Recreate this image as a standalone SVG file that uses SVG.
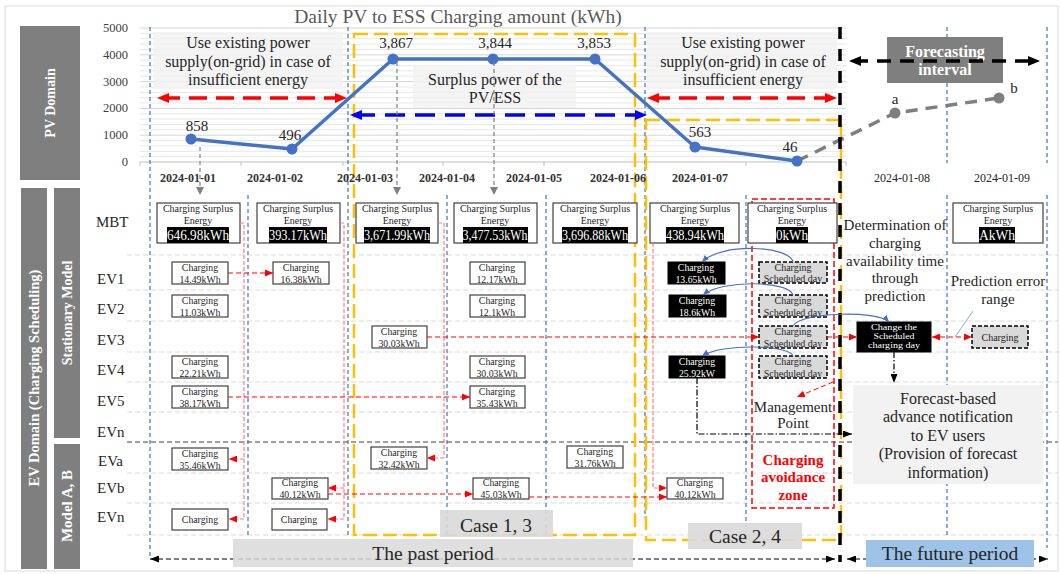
<svg xmlns="http://www.w3.org/2000/svg" width="1061" height="574" viewBox="0 0 1061 574">
<style>
  text{font-family:"Liberation Serif","Times New Roman",serif;fill:#262626}
  .bar{fill:#7f7f7f}
  .barT{fill:#fff;font-weight:bold;text-anchor:middle}
  .ytick{font-size:12.5px;text-anchor:end;fill:#404040}
  .date{font-size:12px;text-anchor:middle;font-weight:bold;fill:#333}
  .date2{font-size:12px;text-anchor:middle}
  .val{font-size:15px;text-anchor:middle}
  .note{font-size:16px;text-anchor:middle}
  .note15{font-size:15px;text-anchor:middle}
  .band{fill:#f2f2f2;opacity:.85}
  .row{font-size:15px}
  .sep{stroke:#d9d9d9;stroke-width:1;stroke-dasharray:5 3;fill:none}
  .vsep{stroke:#4472c4;stroke-width:1.2;stroke-dasharray:4 3;fill:none}
  .mbt{fill:#fff;stroke:#404040;stroke-width:1.2}
  .mbtT{font-size:10px;text-anchor:middle}
  .mbtV{font-size:15.5px;fill:#fff;text-anchor:middle}
  .cb{fill:#fff;stroke:#404040;stroke-width:1.2}
  .cbK{fill:#000;stroke:#000;stroke-width:1}
  .cbG{fill:#d9d9d9;stroke:#000;stroke-width:1.5;stroke-dasharray:4 2}
  .ct{font-size:9.8px;text-anchor:middle}
  .ctW{font-size:9.8px;text-anchor:middle;fill:#fff}
  .ctS{font-size:8px;text-anchor:middle;fill:#fff}
  .ctG{font-size:10px;text-anchor:middle}
  .rd{stroke:#ff0000;stroke-width:1;stroke-dasharray:5 3;fill:none}
  .pk{stroke:#ff7c80;stroke-width:1.2;stroke-dasharray:4 2;fill:none}
  .bl{stroke:#4472c4;stroke-width:1.2;fill:none}
  .kd{stroke:#000;stroke-width:1.2;stroke-dasharray:6 2 1.5 2;fill:none}
  .gd{stroke:#7f7f7f;stroke-width:1.2;stroke-dasharray:4 3;fill:none}
  .orange{fill:none;stroke:#ffc000;stroke-width:2.5;stroke-dasharray:14 6}
  .big{font-size:19.5px;text-anchor:middle}
</style>
<defs>
  <marker id="ahRedLg" viewBox="0 0 12 10" refX="7" refY="5" markerWidth="12" markerHeight="10" markerUnits="userSpaceOnUse" orient="auto-start-reverse"><path d="M0,0L12,5L0,10z" fill="#ff0000"/></marker>
  <marker id="ahBlueLg" viewBox="0 0 12 10" refX="7" refY="5" markerWidth="12" markerHeight="10" markerUnits="userSpaceOnUse" orient="auto-start-reverse"><path d="M0,0L12,5L0,10z" fill="#0000ff"/></marker>
  <marker id="ahBlackLg" viewBox="0 0 12 10" refX="7" refY="5" markerWidth="12" markerHeight="10" markerUnits="userSpaceOnUse" orient="auto-start-reverse"><path d="M0,0L12,5L0,10z" fill="#000"/></marker>
  <marker id="ahRed" viewBox="0 0 8 7" refX="8" refY="3.5" markerWidth="8" markerHeight="7" markerUnits="userSpaceOnUse" orient="auto-start-reverse"><path d="M0,0L8,3.5L0,7z" fill="#ff0000"/></marker>
  <marker id="ahBlue" viewBox="0 0 7 6" refX="7" refY="3" markerWidth="7" markerHeight="6" markerUnits="userSpaceOnUse" orient="auto"><path d="M0,0L7,3L0,6z" fill="#4472c4"/></marker>
  <marker id="ahBlack" viewBox="0 0 9 7" refX="9" refY="3.5" markerWidth="9" markerHeight="7" markerUnits="userSpaceOnUse" orient="auto-start-reverse"><path d="M0,0L9,3.5L0,7z" fill="#000"/></marker>
  <marker id="ahGray" viewBox="0 0 8 8" refX="8" refY="4" markerWidth="8" markerHeight="8" markerUnits="userSpaceOnUse" orient="auto"><path d="M0,0L8,4L0,8z" fill="#7f7f7f"/></marker>
</defs>

<rect x="0" y="0" width="1061" height="574" fill="#fff"/>
<rect x="5" y="6" width="1053" height="565" fill="none" stroke="#d9d9d9" stroke-width="1"/>

<!-- side domain bars -->
<g id="pv-domain">
  <rect class="bar" x="20" y="26" width="60" height="154"/>
  <text class="barT" font-size="14" transform="translate(55,103) rotate(-90)">PV Domain</text>
</g>
<g id="ev-domain">
  <rect class="bar" x="21" y="188" width="26" height="381"/>
  <text class="barT" font-size="14.5" transform="translate(39,378) rotate(-90)">EV Domain (Charging Scheduling)</text>
</g>
<g id="stationary-model">
  <rect class="bar" x="54" y="188" width="26" height="250"/>
  <text class="barT" font-size="14" transform="translate(72,313) rotate(-90)">Stationary Model</text>
</g>
<g id="model-ab">
  <rect class="bar" x="54" y="444" width="26" height="125"/>
  <text class="barT" font-size="15" transform="translate(72,506) rotate(-90)">Model A, B</text>
</g>

<!-- chart grid -->
<g id="chart-grid">
  <path d="M140,156.6H846M140,151.3H846M140,145.9H846M140,140.6H846M140,129.8H846M140,124.5H846M140,119.1H846M140,113.8H846M140,103H846M140,97.7H846M140,92.3H846M140,87H846M140,76.2H846M140,70.9H846M140,65.5H846M140,60.2H846M140,49.4H846M140,44.1H846M140,38.7H846M140,33.4H846" stroke="#e8e8e8" stroke-width="1"/>
  <path d="M140,135.2H846M140,108.4H846M140,81.6H846M140,54.8H846M140,28H846" stroke="#d4d4d4" stroke-width="1"/>
  <path d="M140,162H846M140,162v4M241,162v4M343,162v4M443,162v4M544,162v4M645,162v4M746,162v4M846,162v4" stroke="#bfbfbf" stroke-width="1"/>
  <text class="ytick" x="128" y="32">5000</text>
  <text class="ytick" x="128" y="59">4000</text>
  <text class="ytick" x="128" y="86">3000</text>
  <text class="ytick" x="128" y="112">2000</text>
  <text class="ytick" x="128" y="139">1000</text>
  <text class="ytick" x="128" y="166">0</text>
  <text x="458" y="23" font-size="19.5" text-anchor="middle" style="fill:#595959">Daily PV to ESS Charging  amount (kWh)</text>
</g>

<!-- chart note bands -->
<g id="note-left">
  <rect class="band" x="153" y="32" width="190" height="57"/>
  <text class="note" x="248" y="48">Use existing power</text>
  <text class="note" x="248" y="67">supply(on-grid) in case of</text>
  <text class="note" x="248" y="85">insufficient energy</text>
</g>
<g id="note-surplus">
  <rect class="band" x="413" y="65" width="163" height="43"/>
  <text class="note" x="495" y="85">Surplus power of the</text>
  <text class="note" x="495" y="103">PV/ESS</text>
</g>
<g id="note-right">
  <rect class="band" x="647" y="32" width="190" height="57"/>
  <text class="note" x="743" y="48">Use existing power</text>
  <text class="note" x="743" y="67">supply(on-grid) in case of</text>
  <text class="note" x="743" y="85">insufficient energy</text>
</g>

<!-- row separators -->
<g id="rows">
  <path class="sep" d="M127,255H1058M127,290H1058M127,321H1058M127,352H1058M127,382H1058M127,412H1058M127,473H1058M127,503H1058M127,535H1058"/>
  <path d="M127,442H1058" stroke="#7f7f7f" stroke-width="1.5" stroke-dasharray="5 3"/>
  <text class="row" x="96" y="227">MBT</text>
  <text class="row" x="97" y="284">EV1</text>
  <text class="row" x="97" y="314">EV2</text>
  <text class="row" x="97" y="345">EV3</text>
  <text class="row" x="97" y="375">EV4</text>
  <text class="row" x="97" y="406">EV5</text>
  <text class="row" x="97" y="437">EVn</text>
  <text class="row" x="98" y="466">EVa</text>
  <text class="row" x="97" y="493">EVb</text>
  <text class="row" x="97" y="522">EVn</text>
</g>

<!-- day dividers -->
<g id="day-dividers">
  <path class="vsep" d="M150,27V557M348,27V536M645,27V518M947,27V163M1047,27V163M947,195V537M1047,195V548M248,195V536M447,195V536M546,195V536M746,195V527"/>
</g>

<!-- case regions -->
<g id="case-1-3-region"><rect class="orange" x="354" y="34" width="281" height="501"/></g>
<g id="case-2-4-region"><rect class="orange" x="646" y="120" width="195" height="420"/></g>
<g id="avoidance-zone">
  <rect x="752" y="199" width="82" height="309" fill="none" stroke="#ff0000" stroke-width="1.5" stroke-dasharray="6 3"/>
  <text x="793" y="465" font-size="15" font-weight="bold" text-anchor="middle" style="fill:#ff0000">Charging</text>
  <text x="793" y="482" font-size="15" font-weight="bold" text-anchor="middle" style="fill:#ff0000">avoidance</text>
  <text x="793" y="500" font-size="15" font-weight="bold" text-anchor="middle" style="fill:#ff0000">zone</text>
</g>

<!-- PV series -->
<g id="pv-series">
  <polyline points="191,139 292,149 393,59 493,59 595,59 695,147 797,161" fill="none" stroke="#4472c4" stroke-width="3.5" stroke-linejoin="round"/>
  <polyline points="797,161 895,113 999,98" fill="none" stroke="#7f7f7f" stroke-width="3.5" stroke-dasharray="12 8"/>
  <g fill="#4472c4">
    <circle cx="191" cy="139" r="5.5"/><circle cx="292" cy="149" r="5.5"/><circle cx="393" cy="59" r="5.5"/>
    <circle cx="493" cy="59" r="5.5"/><circle cx="595" cy="59" r="5.5"/><circle cx="695" cy="147" r="5.5"/>
    <circle cx="797" cy="161" r="5.5"/>
  </g>
  <circle cx="895" cy="113" r="5.5" fill="#7f7f7f"/><circle cx="999" cy="98" r="5.5" fill="#7f7f7f"/>
  <text class="val" x="197" y="131">858</text>
  <text class="val" x="290" y="140">496</text>
  <text class="val" x="396" y="48">3,867</text>
  <text class="val" x="495" y="48">3,844</text>
  <text class="val" x="594" y="48">3,853</text>
  <text class="val" x="700" y="137">563</text>
  <text class="val" x="790" y="152">46</text>
  <text class="val" x="895" y="104">a</text>
  <text class="val" x="1014" y="93">b</text>
  <text class="date" x="188" y="182">2024-01-01</text>
  <text class="date" x="275" y="182">2024-01-02</text>
  <text class="date" x="365" y="182">2024-01-03</text>
  <text class="date" x="447" y="182">2024-01-04</text>
  <text class="date" x="534" y="182">2024-01-05</text>
  <text class="date" x="618" y="182">2024-01-06</text>
  <text class="date" x="700" y="182">2024-01-07</text>
  <text class="date2" x="902" y="182">2024-01-08</text>
  <text class="date2" x="1002" y="182">2024-01-09</text>
</g>

<!-- forecasting interval -->
<g id="forecasting-interval">
  <rect x="887" y="37" width="116" height="46" fill="#7f7f7f"/>
  <text class="barT" x="945" y="57" font-size="16">Forecasting</text>
  <text class="barT" x="945" y="75" font-size="16">interval</text>
</g>

<!-- MBT surplus boxes -->
<g id="mbt-0101"><rect class="mbt" x="157" y="203" width="83" height="40"/><text class="mbtT" x="198" y="212">Charging  Surplus</text><text class="mbtT" x="198" y="224">Energy</text><rect x="167" y="227" width="62" height="16" fill="#000"/><text class="mbtV" x="198" y="240" textLength="62" lengthAdjust="spacingAndGlyphs">646.98kWh</text></g>
<g id="mbt-0102"><rect class="mbt" x="257" y="203" width="83" height="40"/><text class="mbtT" x="298" y="212">Charging  Surplus</text><text class="mbtT" x="298" y="224">Energy</text><rect x="269" y="227" width="58" height="16" fill="#000"/><text class="mbtV" x="298" y="240" textLength="58" lengthAdjust="spacingAndGlyphs">393.17kWh</text></g>
<g id="mbt-0103"><rect class="mbt" x="356" y="203" width="82" height="40"/><text class="mbtT" x="397" y="212">Charging  Surplus</text><text class="mbtT" x="397" y="224">Energy</text><rect x="364" y="227" width="66" height="16" fill="#000"/><text class="mbtV" x="397" y="240" textLength="66" lengthAdjust="spacingAndGlyphs">3,671.99kWh</text></g>
<g id="mbt-0104"><rect class="mbt" x="454" y="203" width="83" height="40"/><text class="mbtT" x="495" y="212">Charging  Surplus</text><text class="mbtT" x="495" y="224">Energy</text><rect x="463" y="227" width="65" height="16" fill="#000"/><text class="mbtV" x="495" y="240" textLength="65" lengthAdjust="spacingAndGlyphs">3,477.53kWh</text></g>
<g id="mbt-0105"><rect class="mbt" x="553" y="203" width="84" height="40"/><text class="mbtT" x="595" y="212">Charging  Surplus</text><text class="mbtT" x="595" y="224">Energy</text><rect x="562" y="227" width="66" height="16" fill="#000"/><text class="mbtV" x="595" y="240" textLength="66" lengthAdjust="spacingAndGlyphs">3,696.88kWh</text></g>
<g id="mbt-0106"><rect class="mbt" x="650" y="203" width="89" height="40"/><text class="mbtT" x="695" y="212">Charging  Surplus</text><text class="mbtT" x="695" y="224">Energy</text><rect x="666" y="227" width="58" height="16" fill="#000"/><text class="mbtV" x="695" y="240" textLength="58" lengthAdjust="spacingAndGlyphs">438.94kWh</text></g>
<g id="mbt-0107"><rect class="mbt" x="748" y="203" width="89" height="40"/><text class="mbtT" x="792" y="212">Charging  Surplus</text><text class="mbtT" x="792" y="224">Energy</text><rect x="776" y="227" width="32" height="16" fill="#000"/><text class="mbtV" x="792" y="240" textLength="32" lengthAdjust="spacingAndGlyphs">0kWh</text></g>
<g id="mbt-0109"><rect class="mbt" x="953" y="203" width="90" height="40"/><text class="mbtT" x="998" y="212">Charging  Surplus</text><text class="mbtT" x="998" y="224">Energy</text><rect x="979" y="227" width="36" height="16" fill="#000"/><text class="mbtV" x="997" y="240" textLength="36" lengthAdjust="spacingAndGlyphs">AkWh</text></g>

<!-- charging sessions -->
<g id="ev1-a"><rect class="cb" x="172" y="262" width="56" height="22"/><text class="ct" x="200" y="270.5">Charging</text><text class="ct" x="200" y="282.5">14.49kWh</text></g>
<g id="ev1-b"><rect class="cb" x="273" y="262" width="56" height="22"/><text class="ct" x="301" y="270.5">Charging</text><text class="ct" x="301" y="282.5">16.38kWh</text></g>
<g id="ev1-c"><rect class="cb" x="470" y="262" width="55" height="22"/><text class="ct" x="497" y="270.5">Charging</text><text class="ct" x="497" y="282.5">12.17kWh</text></g>
<g id="ev1-d"><rect class="cbK" x="668" y="262" width="57" height="22"/><text class="ctW" x="696" y="270.5">Charging</text><text class="ctW" x="696" y="282.5">13.65kWh</text></g>
<g id="ev1-e"><rect class="cbG" x="759" y="262" width="68" height="21"/><text class="ctG" x="793" y="270.5">Charging</text><text class="ctG" x="793" y="282">Scheduled day</text></g>

<g id="ev2-a"><rect class="cb" x="172" y="295" width="56" height="22"/><text class="ct" x="200" y="303.5">Charging</text><text class="ct" x="200" y="315.5">11.03kWh</text></g>
<g id="ev2-b"><rect class="cb" x="470" y="295" width="55" height="22"/><text class="ct" x="497" y="303.5">Charging</text><text class="ct" x="497" y="315.5">12.1kWh</text></g>
<g id="ev2-c"><rect class="cbK" x="669" y="295" width="57" height="22"/><text class="ctW" x="697" y="303.5">Charging</text><text class="ctW" x="697" y="315.5">18.6kWh</text></g>
<g id="ev2-d"><rect class="cbG" x="759" y="295" width="68" height="22"/><text class="ctG" x="793" y="303.5">Charging</text><text class="ctG" x="793" y="315.5">Scheduled day</text></g>

<g id="ev3-a"><rect class="cb" x="372" y="326" width="55" height="22"/><text class="ct" x="399" y="334.5">Charging</text><text class="ct" x="399" y="346.5">30.03kWh</text></g>
<g id="ev3-b"><rect class="cbG" x="759" y="326" width="68" height="22"/><text class="ctG" x="793" y="334.5">Charging</text><text class="ctG" x="793" y="346.5">Scheduled day</text></g>
<g id="ev3-change"><rect class="cbK" x="857" y="322" width="74" height="30"/><text class="ctS" x="894" y="330" textLength="46" lengthAdjust="spacingAndGlyphs">Change the</text><text class="ctS" x="894" y="339" textLength="41" lengthAdjust="spacingAndGlyphs">Scheduled</text><text class="ctS" x="894" y="348" textLength="52" lengthAdjust="spacingAndGlyphs">charging day</text></g>
<g id="ev3-forecast"><rect class="cbG" x="972" y="326" width="56" height="22"/><text class="ctG" x="1000" y="340.5">Charging</text></g>

<g id="ev4-a"><rect class="cb" x="172" y="356" width="56" height="22"/><text class="ct" x="200" y="364.5">Charging</text><text class="ct" x="200" y="376.5">22.21kWh</text></g>
<g id="ev4-b"><rect class="cb" x="470" y="356" width="55" height="22"/><text class="ct" x="497" y="364.5">Charging</text><text class="ct" x="497" y="376.5">30.03kWh</text></g>
<g id="ev4-c"><rect class="cbK" x="669" y="356" width="56" height="22"/><text class="ctW" x="697" y="364.5">Charging</text><text class="ctW" x="697" y="376.5">25.92kW</text></g>
<g id="ev4-d"><rect class="cbG" x="759" y="356" width="68" height="22"/><text class="ctG" x="793" y="364.5">Charging</text><text class="ctG" x="793" y="376.5">Scheduled day</text></g>

<g id="ev5-a"><rect class="cb" x="172" y="386" width="56" height="22"/><text class="ct" x="200" y="394.5">Charging</text><text class="ct" x="200" y="406.5">38.17kWh</text></g>
<g id="ev5-b"><rect class="cb" x="470" y="386" width="55" height="22"/><text class="ct" x="497" y="394.5">Charging</text><text class="ct" x="497" y="406.5">35.43kWh</text></g>

<g id="eva-a"><rect class="cb" x="172" y="448" width="56" height="22"/><text class="ct" x="200" y="456.5">Charging</text><text class="ct" x="200" y="468.5">35.46kWh</text></g>
<g id="eva-b"><rect class="cb" x="371" y="447" width="56" height="22"/><text class="ct" x="399" y="455.5">Charging</text><text class="ct" x="399" y="467.5">32.42kWh</text></g>
<g id="eva-c"><rect class="cb" x="567" y="446" width="56" height="22"/><text class="ct" x="595" y="454.5">Charging</text><text class="ct" x="595" y="466.5">31.76kWh</text></g>

<g id="evb-a"><rect class="cb" x="272" y="478" width="56" height="21"/><text class="ct" x="300" y="486">Charging</text><text class="ct" x="300" y="497.5">40.12kWh</text></g>
<g id="evb-b"><rect class="cb" x="473" y="478" width="56" height="21"/><text class="ct" x="501" y="486">Charging</text><text class="ct" x="501" y="497.5">45.03kWh</text></g>
<g id="evb-c"><rect class="cb" x="667" y="478" width="56" height="21"/><text class="ct" x="695" y="486">Charging</text><text class="ct" x="695" y="497.5">40.12kWh</text></g>

<g id="evn-a"><rect class="cb" x="172" y="509" width="56" height="21"/><text class="ct" x="200" y="523">Charging</text></g>
<g id="evn-b"><rect class="cb" x="272" y="509" width="55" height="21"/><text class="ct" x="299" y="523">Charging</text></g>

<!-- annotations -->
<g id="determination-note">
  <text class="note15" x="895" y="230">Determination of</text>
  <text class="note15" x="895" y="248">charging</text>
  <text class="note15" x="895" y="266">availability time</text>
  <text class="note15" x="895" y="283">through</text>
  <text class="note15" x="895" y="301">prediction</text>
</g>
<g id="prediction-error">
  <text class="note15" x="998" y="286">Prediction error</text>
  <text class="note15" x="998" y="304">range</text>
</g>
<g id="management-point">
  <text class="note15" x="793" y="412">Management</text>
  <text class="note15" x="793" y="428">Point</text>
</g>
<g id="advance-notification">
  <rect x="853" y="385" width="190" height="99" fill="#f2f2f2"/>
  <text class="note" x="948" y="403.5">Forecast-based</text>
  <text class="note" x="948" y="422">advance notification</text>
  <text class="note" x="948" y="440.5">to EV  users</text>
  <text class="note" x="948" y="459">(Provision of forecast</text>
  <text class="note" x="948" y="477.5">information)</text>
</g>

<!-- connectors -->
<g id="connectors">
  <!-- chart range arrows -->
  <line x1="162" y1="98" x2="342" y2="98" stroke="#ff0000" stroke-width="3.5" stroke-dasharray="18 9" marker-start="url(#ahRedLg)" marker-end="url(#ahRedLg)"/>
  <line x1="652" y1="98" x2="832" y2="98" stroke="#ff0000" stroke-width="3.5" stroke-dasharray="18 9" marker-start="url(#ahRedLg)" marker-end="url(#ahRedLg)"/>
  <line x1="355" y1="115" x2="642" y2="115" stroke="#0000ff" stroke-width="3.5" stroke-dasharray="20 10" marker-start="url(#ahBlueLg)" marker-end="url(#ahBlueLg)"/>
  <line x1="854" y1="61" x2="1035" y2="61" stroke="#000" stroke-width="3.5" stroke-dasharray="14 9" marker-start="url(#ahBlackLg)" marker-end="url(#ahBlackLg)"/>
  <line x1="840" y1="27" x2="840" y2="562" stroke="#000" stroke-width="3.5" stroke-dasharray="12 10"/>

  <!-- drop lines from the daily values -->
  <path class="gd" d="M200,147V195" marker-end="url(#ahGray)"/>
  <path class="gd" d="M397,62V195" marker-end="url(#ahGray)"/>
  <path class="gd" d="M494,62V195" marker-end="url(#ahGray)"/>

  <!-- surplus redistribution (pink) -->
  <path class="pk" d="M240,223H244V519"/>
  <path class="pk" d="M244,459H229" marker-end="url(#ahRed)"/>
  <path class="pk" d="M244,519H229" marker-end="url(#ahRed)"/>
  <path class="pk" d="M340,223H344V519"/>
  <path class="pk" d="M344,488H328" marker-end="url(#ahRed)"/>
  <path class="pk" d="M344,519H328" marker-end="url(#ahRed)"/>
  <path class="pk" d="M438,223H444V458"/>
  <path class="pk" d="M444,458H427" marker-end="url(#ahRed)"/>
  <path class="pk" d="M653,243V488H667" marker-end="url(#ahRed)"/>

  <!-- rescheduling (red) -->
  <path class="rd" d="M228,273H273" marker-end="url(#ahRed)"/>
  <path class="rd" d="M427,337H759" marker-end="url(#ahRed)"/>
  <path class="rd" d="M827,337H857" marker-end="url(#ahRed)"/>
  <path class="rd" d="M932,337H972" marker-start="url(#ahRed)" marker-end="url(#ahRed)"/>
  <path class="rd" d="M228,397H470" marker-end="url(#ahRed)"/>
  <path class="rd" d="M328,494H473" marker-end="url(#ahRed)"/>
  <path class="rd" d="M529,497H667" marker-end="url(#ahRed)"/>
  <path class="rd" d="M833,382L797,397" marker-end="url(#ahRed)"/>

  <!-- moved sessions (blue) -->
  <path class="bl" d="M793,262C790,246 722,242 702,262" marker-end="url(#ahBlue)"/>
  <path class="bl" d="M793,295C790,281 722,279 703,295" marker-end="url(#ahBlue)"/>
  <path class="bl" d="M793,326C800,312 878,310 889,322" marker-end="url(#ahBlue)"/>
  <path class="bl" d="M793,356C790,345 722,343 702,356" marker-end="url(#ahBlue)"/>
  <path d="M973,311L955,337" stroke="#8eaadb" stroke-width="1" fill="none"/>

  <!-- notification flow (black) -->
  <path class="kd" d="M894,352V383" marker-end="url(#ahBlack)"/>
  <path class="kd" d="M697,378V434H852" marker-end="url(#ahBlack)"/>

  <!-- period arrows -->
  <path d="M150,559H835" stroke="#000" stroke-width="1.2" stroke-dasharray="5 3" marker-start="url(#ahBlack)" marker-end="url(#ahBlack)"/>
  <path d="M847,559H1048" stroke="#000" stroke-width="1.2" stroke-dasharray="5 3" marker-start="url(#ahBlack)" marker-end="url(#ahBlack)"/>
</g>

<!-- period and case labels -->
<g id="case-1-3-label"><rect x="440" y="510" width="113" height="27" fill="#d9d9d9" opacity="0.9"/><text class="big" x="496" y="532">Case 1, 3</text></g>
<g id="case-2-4-label"><rect x="688" y="523" width="114" height="26" fill="#d9d9d9" opacity="0.9"/><text class="big" x="745" y="543">Case 2, 4</text></g>
<g id="past-period"><rect x="233" y="539" width="400" height="28" fill="#d9d9d9" opacity="0.85"/><text class="big" x="433" y="560" font-size="20">The past period</text></g>
<g id="future-period"><rect x="866" y="540" width="168" height="27" fill="#9dc3e6"/><text class="big" x="950" y="560" font-size="20">The future period</text></g>
</svg>
